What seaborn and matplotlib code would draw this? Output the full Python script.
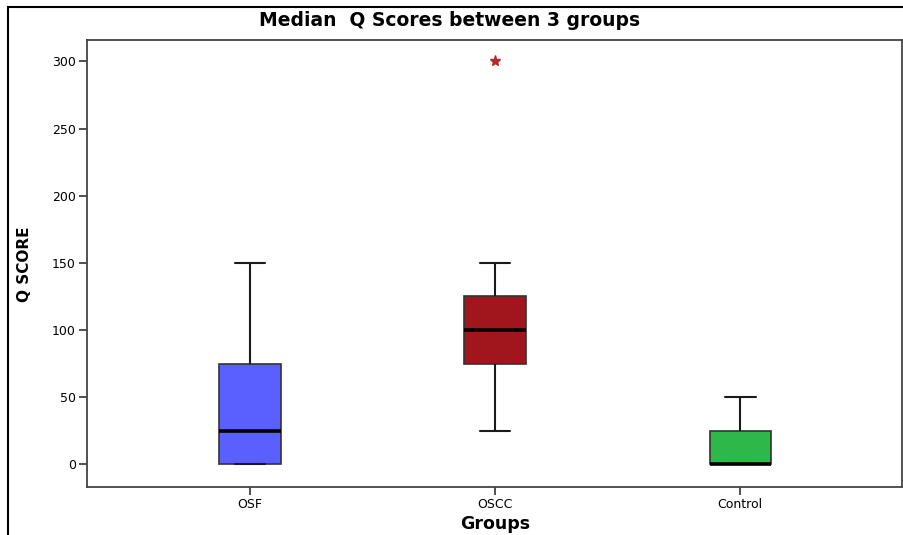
import pandas as pd
import seaborn as sns
import matplotlib.pyplot as plt
from matplotlib.patches import Rectangle

# values (each group's samples give the box stats shown)
groups = ["OSF", "OSCC", "Control"]
osf_scores = [0, 0, 0, 25, 25, 25, 75, 75, 150]
oscc_scores = [25, 75, 75, 100, 100, 125, 125, 150, 300]
control_scores = [0, 0, 0, 0, 0, 25, 25, 25, 50]
box_colors = ["#5a60ff", "#a0161c", "#2eb84a"]
y_ticks = [0, 50, 100, 150, 200, 250, 300]

df = pd.DataFrame({
    "Groups": ["OSF"] * len(osf_scores) + ["OSCC"] * len(oscc_scores) + ["Control"] * len(control_scores),
    "Q SCORE": osf_scores + oscc_scores + control_scores,
})

sns.set_style("white")
plt.rcParams["font.family"] = ["DejaVu Sans"]
plt.rcParams["text.color"] = "black"
plt.rcParams["xtick.color"] = "black"
plt.rcParams["ytick.color"] = "black"

fig = plt.figure(figsize=(9.04, 5.35), dpi=100)
ax = fig.add_axes([87 / 904, 48 / 535, 815 / 904, 447 / 535])

sns.boxplot(
    data=df, x="Groups", y="Q SCORE", hue="Groups", order=groups, hue_order=groups,
    palette=box_colors, width=0.25, linewidth=1.5, linecolor="#1a1a1a",
    saturation=1, legend=False, ax=ax,
    boxprops=dict(edgecolor="#333333", linewidth=1.2),
    medianprops=dict(color="black", linewidth=2.6),
    flierprops=dict(marker="*", markersize=8, markerfacecolor="#b22a2a",
                    markeredgecolor="#b22a2a"),
)

ax.set_xlim(-0.665, 2.66)
ax.set_ylim(-17, 316)
ax.set_yticks(y_ticks)
ax.tick_params(axis="both", direction="out", length=6, width=1.2, color="#333333",
               labelsize=9, labelcolor="black", pad=2, left=True, bottom=True)
for side in ["left", "bottom", "top", "right"]:
    ax.spines[side].set_visible(True)
    ax.spines[side].set_color("#444444")
    ax.spines[side].set_linewidth(1.3)

ax.set_xlabel("")
ax.set_ylabel("")
fig.text(450 / 904, 1 - 21 / 535, "Median  Q Scores between 3 groups",
         ha="center", va="center", fontsize=13.5, fontweight="bold", color="black")
fig.text(25 / 904, 1 - 264 / 535, "Q SCORE", rotation=90,
         ha="center", va="center", fontsize=11, fontweight="bold", color="black")
fig.text(495 / 904, 1 - 524 / 535, "Groups",
         ha="center", va="center", fontsize=12.5, fontweight="bold", color="black")

# outer frame, cut off on the right and bottom like the source
fig.patches.append(Rectangle((8 / 904, -0.1), 1.2, 1 - 7 / 535 + 0.1,
                             transform=fig.transFigure, fill=False,
                             edgecolor="black", linewidth=1.5))

fig.savefig("out.png", dpi=100)
